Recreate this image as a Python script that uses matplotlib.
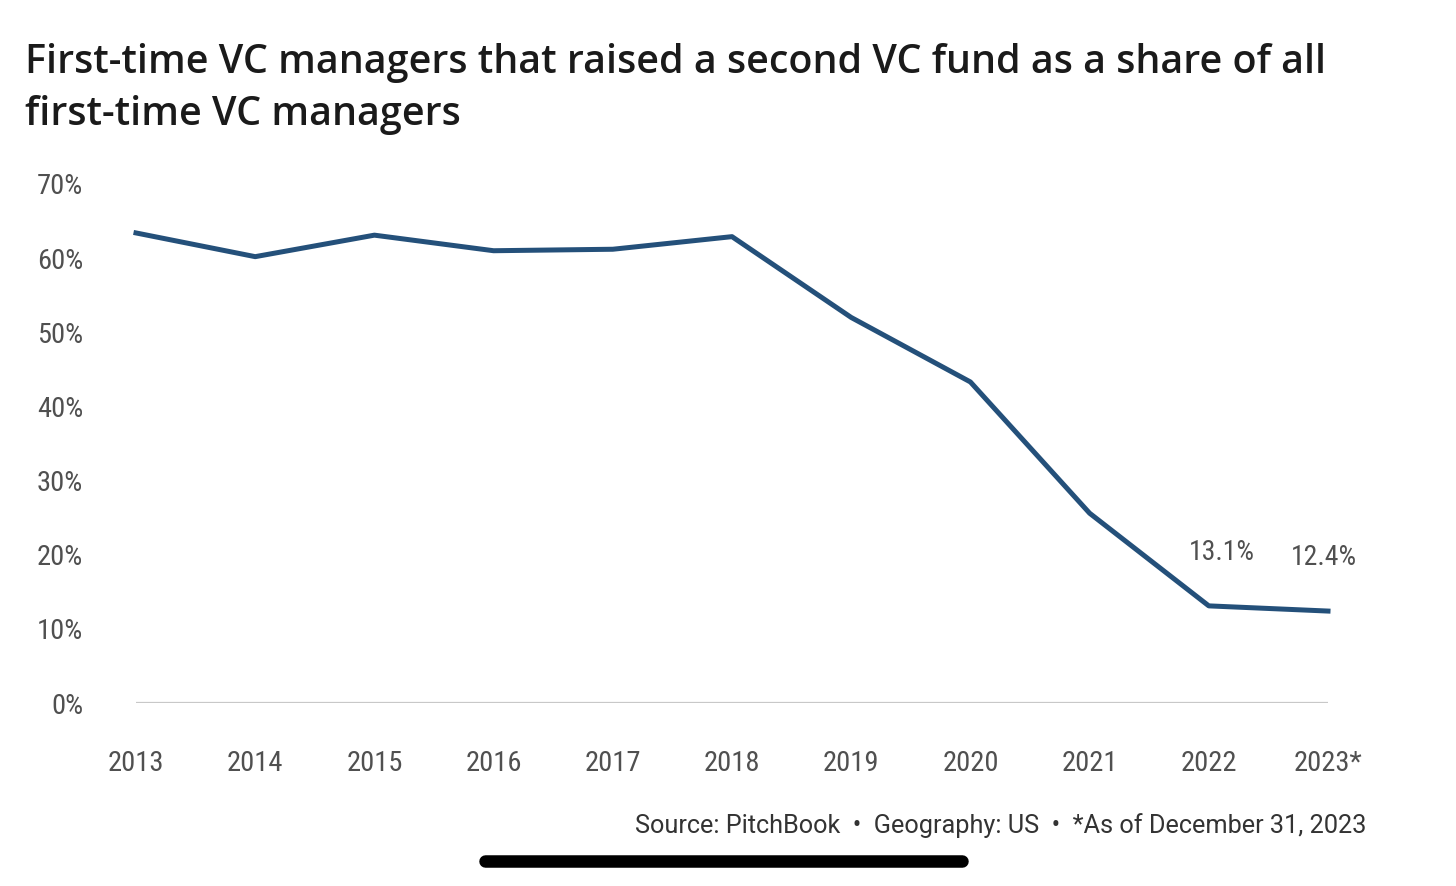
import matplotlib.pyplot as plt
from matplotlib import font_manager

years = ['2013', '2014', '2015', '2016', '2017', '2018', '2019', '2020', '2021', '2022', '2023*']
share = [63.4, 60.2, 63.1, 61.0, 61.2, 62.9, 52.0, 43.3, 25.6, 13.1, 12.4]
yticks = [0, 10, 20, 30, 40, 50, 60, 70]
labelled = {9: '13.1%', 10: '12.4%'}

names = {f.name for f in font_manager.fontManager.ttflist}
narrow = 'Roboto'
for cand in ['Roboto Condensed', 'Liberation Sans Narrow', 'Open Sans Condensed']:
    if cand in names:
        narrow = cand
        break
plt.rcParams['font.family'] = [narrow, 'DejaVu Sans']

fig = plt.figure(figsize=(14.56, 8.86), dpi=100)
ax = fig.add_axes([136 / 1456, 1 - 703 / 886, (1328 - 136) / 1456, (703 - 184) / 886])

x = list(range(len(years)))
ax.plot(x, share, color='#24507a', lw=3.6, clip_on=False)
ax.axhline(0, color='#c8c8c8', lw=1.6)

# label offsets along x, the picture shifts them a bit
dx = {9: 0.11, 10: -0.03}
for i, lab in labelled.items():
    ax.text(x[i] + dx[i], share[i] + 5.4, lab, ha='center', va='bottom',
            fontsize=20, color='#505050')

ax.set_xlim(0, len(years) - 1)
ax.set_ylim(0, 70)
ax.set_yticks(yticks)
ax.set_yticklabels([f'{v}%' for v in yticks])
ax.set_xticks(x)
ax.set_xticklabels(years)
ax.tick_params(length=0, labelsize=20.5, labelcolor='#505050')
ax.tick_params(axis='y', pad=38)
ax.tick_params(axis='x', pad=34)
for s in ax.spines.values():
    s.set_visible(False)

fig.text(25 / 1456, 1 - 89 / 886,
         'First-time VC managers that raised a second VC fund as a share of all\nfirst-time VC managers',
         fontsize=28.4, fontweight='semibold', family=['Open Sans', 'DejaVu Sans'],
         color='#1a1a1a', ha='left', va='center', linespacing=1.38)

fig.text(1366 / 1456, 1 - 826 / 886,
         'Source: PitchBook  \u2022  Geography: US  \u2022  *As of December 31, 2023',
         fontsize=18.2, color='#333333', ha='right', va='center',
         family=['Roboto', 'DejaVu Sans'])

# phone screenshot home bar
fig.add_artist(plt.Line2D([485 / 1456, 962 / 1456], [1 - 861 / 886, 1 - 861 / 886],
                          color='black', lw=9, solid_capstyle='round'))

fig.savefig('out.png', dpi=100, facecolor='white')
